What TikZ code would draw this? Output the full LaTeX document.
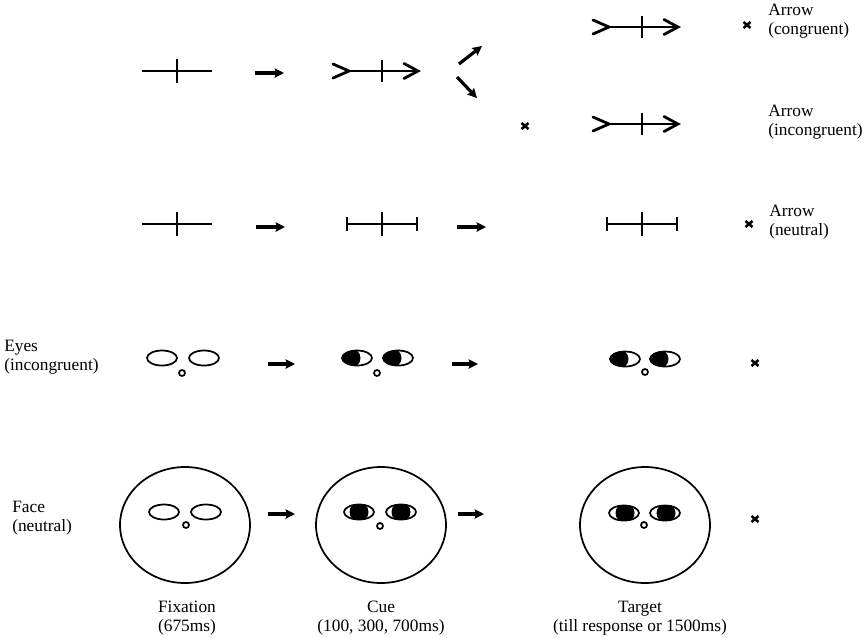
\documentclass[tikz,border=0pt]{standalone}
\usepackage{fontspec}
\setmainfont{Liberation Serif}
\usetikzlibrary{arrows.meta}

\begin{document}
\begin{tikzpicture}[x=0.75pt,y=-0.75pt,
  stim/.style={line width=2.1pt},
  flow/.style={line width=2.4pt,-{Stealth[length=7pt,width=7pt,inset=1pt]}},
  outline/.style={line width=1.3pt},
  caption/.style={font=\fontsize{13}{14}\selectfont,inner sep=0pt},
  pics/fixcross/.style={code={
    \draw[stim] (-35,0) -- (35,0) (0,-12) -- (0,12);}},
  pics/arrowstim/.style={code={
    \draw[stim] (-33,0) -- (36,0) (0,-11) -- (0,11);
    \draw[stim,line cap=round] (-49,-7) -- (-33,0) -- (-49,7);
    \draw[stim,line cap=round] (22,-7.5) -- (36,0) -- (22,7.5);}},
  pics/neutralstim/.style={code={
    \draw[stim] (-35,0) -- (35,0) (0,-12) -- (0,12);
    \draw[stim] (-35,-7) -- (-35,7) (35,-7) -- (35,7);}},
  pics/target/.style={code={
    \draw[line width=1.9pt] (-3.5,-3) -- (3.5,3) (-3.5,3) -- (3.5,-3);}},
  pics/openeye/.style={code={
    \draw[outline] (0,0) ellipse (15 and 7.5);}},
  pics/lookeye/.style={code={
    \begin{scope}
      \clip (0,0) ellipse (15 and 7.5);
      \fill (#1,0) circle (9.5);
    \end{scope}
    \draw[outline] (0,0) ellipse (15 and 7.5);}},
  pics/nose/.style={code={
    \draw[outline] (0,0) circle (3);}}
]
\useasboundingbox (0,0) rectangle (864,637);

% arrow cue, congruent / incongruent
\pic at (177,71) {fixcross};
\draw[flow] (255,73) -- (284,73);
\pic at (382,71) {arrowstim};
\draw[flow] (459,64) -- (482,46);
\draw[flow] (457,77) -- (477,98);
\pic at (642,27) {arrowstim};
\pic at (747,25) {target};
\pic at (642,124) {arrowstim};
\pic at (525,126) {target};
\node[caption,align=left,anchor=west] (lblcong) at (768,21) {Arrow\\(congruent)};
\node[caption,align=left,anchor=west] (lblincong) at (768,122) {Arrow\\(incongruent)};

% arrow cue, neutral
\pic at (177,224) {fixcross};
\draw[flow] (256,227) -- (285,227);
\pic at (382,224) {neutralstim};
\draw[flow] (457,227) -- (486,227);
\pic at (642,224) {neutralstim};
\pic at (749,224) {target};
\node[caption,align=left,anchor=west] (lblneutral) at (769,222) {Arrow\\(neutral)};

% eyes cue
\pic at (162,358) {openeye};
\pic at (204,358) {openeye};
\pic at (182,373) {nose};
\draw[flow] (268,364) -- (295,364);
\pic at (357,358) {lookeye=-6};
\pic at (398,358) {lookeye=-6};
\pic at (377,373) {nose};
\draw[flow] (452,364) -- (478,364);
\pic at (625,359) {lookeye=-6};
\pic at (665,359) {lookeye=-6};
\pic at (645,372) {nose};
\pic at (755,363) {target};
\node[caption,align=left,anchor=west] (lbleyes) at (4,357) {Eyes\\(incongruent)};

% face cue
\draw[outline] (185,525) ellipse (65 and 58);
\pic at (164,512) {openeye};
\pic at (206,512) {openeye};
\pic at (186,525) {nose};
\draw[flow] (268,514) -- (295,514);
\draw[outline] (381,525) ellipse (65 and 58);
\pic at (359,512) {lookeye=0};
\pic at (401,512) {lookeye=0};
\pic at (380,526) {nose};
\draw[flow] (458,514) -- (484,514);
\draw[outline] (645,525) ellipse (65 and 58);
\pic at (624,513) {lookeye=1};
\pic at (665,513) {lookeye=1};
\pic at (644,525) {nose};
\pic at (755,519) {target};
\node[caption,align=left,anchor=west] (lblface) at (12,518) {Face\\(neutral)};

% trial phases
\node[caption,align=center,anchor=north] (fixation) at (187,601) {Fixation\\(675ms)};
\node[caption,align=center,anchor=north] (cue) at (381,601) {Cue\\(100, 300, 700ms)};
\node[caption,align=center,anchor=north] (targetlbl) at (640,601) {Target\\(till response or 1500ms)};
\end{tikzpicture}
\end{document}
